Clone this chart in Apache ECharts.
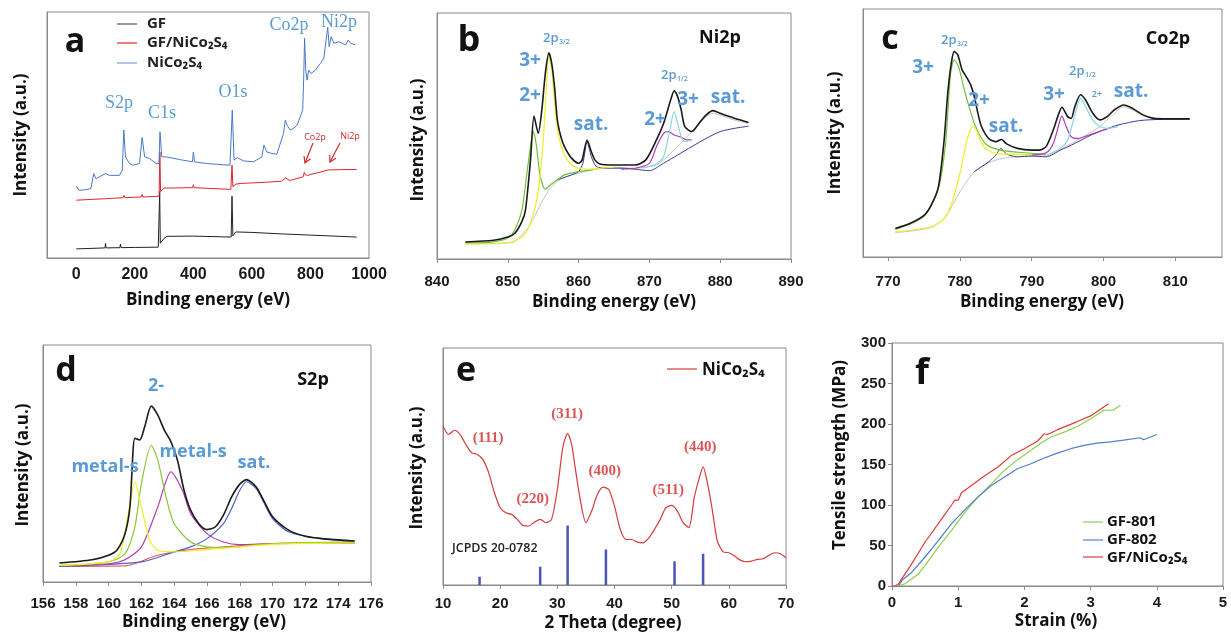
<!DOCTYPE html>
<html><head><meta charset="utf-8">
<script src="https://cdn.jsdelivr.net/npm/echarts@6/dist/echarts.min.js"></script>
<style>html,body{margin:0;padding:0;background:#fff}#c{width:1231px;height:636px}</style>
</head><body><div id="c"></div>
<script>
// ---------- Panel a: XPS survey (eV, a.u.) ----------
const aTicks = [0, 200, 400, 600, 800, 1000];
const aGF = [[0,3.7],[50,3.9],[98,4.1],[100,5.9],[102,4.1],[149,4.2],[151,5.7],[153,4.2],[200,4.3],[280,4.4],[283,4.5],[285,27],[287,6],[292,5.9],[300,8],[310,8.8],[398,8.9],[400,9.5],[402,8.9],[500,8.6],[529,8.5],[532,25.1],[535,9],[545,10.6],[600,10.4],[700,9.8],[800,9.3],[900,8.8],[958,8.5]];
const aGFNCS = [[0,23.5],[50,23.8],[100,24.1],[160,24.5],[163,25.5],[166,24.5],[222,24.8],[225,25.8],[228,24.8],[270,25],[283,25.2],[285.5,43.1],[288,27],[300,28.4],[350,28.5],[398,28.6],[400,29.8],[402,28.6],[450,28.3],[528,27.9],[532,37.7],[535,29],[545,30],[560,30.3],[650,30.8],[700,31.2],[715,32.5],[730,31.5],[775,33],[779,34.8],[783,33.8],[790,33.5],[800,34],[830,34.8],[860,35.8],[900,35.9],[958,36]];
const aNCS = [[0,29.2],[10,27.5],[33,27.8],[50,28.2],[59.5,34.3],[67.5,32.3],[79,33],[99.5,34.3],[113,33.6],[147.6,33.6],[157,35.7],[162.5,52],[168,41.1],[182,38.4],[193,37.7],[216,38.4],[225,49],[233.5,41.1],[250.6,40.4],[273,38.4],[282.6,38.4],[286,51.3],[292,41.1],[308,41.1],[353.5,40],[397,39.1],[400,43.1],[404,39.1],[445,38.4],[525,37.7],[533,60.1],[539,39.8],[550,40.8],[571,39.5],[605,39.1],[634,41.1],[641,45.9],[651,43.1],[668,42.5],[685,42.2],[708,50.6],[714,56],[720,54],[731,52],[742.7,52.7],[754,54],[765.5,57.4],[773.6,60.4],[777,73.7],[780,89.3],[784,76.4],[788.5,72.3],[794,76.4],[802,75],[817,76.4],[834,79.1],[845.6,81.2],[851,80.5],[859,93.8],[864,85.9],[871,90],[880,87.3],[897,87.9],[908.7,87.3],[920,86.6],[929,88.6],[937,87.3],[954,86.6]];

// ---------- Panel b: Ni2p ----------
const bEnvelope = [[844,6.9],[848,7.6],[850,8.9],[851,10.5],[852,15.3],[852.5,20],[853.2,40],[853.7,58.1],[854.3,51.1],[854.8,60.5],[855.3,75.4],[855.8,83.8],[856.2,79.5],[856.6,70],[857,56.5],[857.5,49.7],[858,45.7],[859,41],[860,38.9],[860.5,40.3],[861.2,48.4],[861.8,43.6],[862.3,40.3],[863,38.6],[865,38.2],[868,38.2],[869.5,40.3],[871,48.4],[872,55.1],[873,64.6],[873.5,68.4],[874,65.9],[874.5,60.5],[875,53.8],[876,51.8],[877,55.1],[878,58.5],[879,60.3],[880,59.2],[882,57.2],[884,55.5]];
const bBackground = [[844,6.2],[850,6.5],[851,7.2],[852,9.9],[853,13.2],[854,18.6],[855,24.1],[856,28.8],[857,31.5],[858,33.2],[860,34.9],[862,36.2],[865,37.3],[868,36.9],[870,37.6],[871,38.2],[872,40.3],[874,45.7],[876,51.8],[878,57.8],[879,59.2],[880,58.5],[882,56.5],[884,55.1]];
const bSat = [[857,32.2],[859,34.2],[860,35.5],[860.6,38.9],[861.2,47.7],[861.8,41.6],[862.5,37.6],[864,36.9],[866,36.9],[868,36.5],[870,35.9],[872,38.9],[874,42.3],[876,45.7],[878,49],[880,51.8],[882,53.1],[884,54]];
const bNi2 = [[844,6.5],[848,7],[850,8.5],[851,11.9],[852,20],[852.7,34.9],[853.2,45.7],[853.6,51.8],[854,47],[854.5,34.9],[855,29.5],[855.3,28.4],[856,30.1],[857,32.2],[858,34.2],[860,35.5],[862,36.2]];
const bNi3 = [[844,6.1],[850,6.6],[852,8.9],[853,13.2],[854,22.7],[854.8,40.3],[855.3,61.9],[855.8,82.2],[856.2,77],[856.7,60.5],[857.2,49.7],[858,42.3],[859,38.2],[860,36.9],[861,36.5],[863,36.9],[865,37.3]];
const bNi2b = [[866,36.5],[868,36.9],[870,38.9],[871,45.7],[872,51.1],[872.7,51.8],[873.5,50.4],[874.5,49.5],[875.3,48.4],[876,48.4]];
const bNi3b = [[869,36.9],[871,38.6],[872,41.6],[872.8,51.1],[873.5,59.9],[874,55.1],[874.5,49.7],[875,47.7],[876,48.4]];

// ---------- Panel c: Co2p ----------
const cTicks = [770, 780, 790, 800, 810];
const cEnvelope = [[771,11.5],[773,13.5],[775,16.8],[776,20.9],[777,28.3],[777.8,47.2],[778.3,66],[778.8,78.2],[779.2,82.9],[779.7,81.5],[780.3,75.5],[781,72.1],[781.5,69.4],[782,64.7],[782.5,58],[783,52.6],[784,47.8],[785,46.5],[785.8,47.4],[786.5,45.6],[788,43.8],[790,43.1],[791,43.1],[792,44.5],[793,51.2],[793.7,57.3],[794.2,60.4],[795,56.6],[795.5,55.9],[796,60.6],[796.8,65.4],[797.5,63.3],[798.5,58],[799.5,55.3],[800.5,56.6],[801.5,59.3],[802.8,61.3],[804,60],[805.5,57.3],[807,55.9],[809,55.7],[812,55.7]];
const cBackground = [[771,9.8],[776,11.9],[778,16.4],[780,26.3],[782,34.4],[784,38],[786,39.8],[790,40.8],[792,40.7],[794,43.4],[796,46.5],[798,49.9],[799.5,52.6],[801,56.6],[802.8,60.6],[804,59.3],[805.5,56.9],[807,55.9],[810,55.5],[812,55.5]];
const cSat = [[782,34.4],[784,38.4],[785,41.1],[785.7,43.8],[786.5,41.5],[788,40.4],[790,40.7],[792,40.4],[794,43.1],[796,45.8],[798,48.8],[800,51.2],[802,53.2],[805,55],[808,55.5],[812,55.7]];
const cCo3 = [[771,11.1],[775,16.4],[777,27.6],[778,45.8],[778.7,74.1],[779.2,79.5],[779.8,76.8],[780.5,68.7],[781,63.3],[782,53.9],[783,47.8],[784,44.7],[786,42.9],[788,42.3],[790,41.8],[792,41.4]];
const cCo2 = [[771,10.1],[776,12.1],[777,13.7],[778,16.2],[779,22.9],[780,33.7],[781,47.2],[781.8,52.8],[782.5,49.9],[783,45.8],[784,42.9],[785,41.8],[787,41.5],[790,41.4]];
const cCo3b = [[790,41.1],[792,42],[793,45.8],[793.7,52.6],[794.2,56.9],[794.8,52.6],[795.5,48.5],[796.5,47.8],[798,49.2],[800,51.2],[801,51.9]];
const cCo2b = [[792,41],[794,43.8],[795,47.2],[796,57.3],[796.8,64],[797.5,60.6],[798.5,55.3],[799.5,52.6],[800.5,51.9],[802,52.6]];

// ---------- Panel d: S2p ----------
const dEnvelope = [[157,8],[159,9.4],[160,11.3],[160.5,13.4],[161,20.4],[161.3,31.7],[161.6,60.6],[161.9,59.9],[162.2,65.5],[162.6,74.2],[163,70.4],[163.4,64.1],[163.8,59.2],[164.2,51.4],[164.6,38.7],[165,30.3],[165.5,24.6],[166,22.1],[166.5,23.2],[167,28.2],[167.5,35.9],[168,41.3],[168.4,43.2],[169,40.1],[169.5,33.8],[170,27.5],[171,21.8],[172,19.3],[173,18.3],[175,17.3]];
const dMetalS1 = [[157,7],[160,8.5],[160.7,12],[161.2,28.9],[161.6,42.3],[162,31.7],[162.5,17.6],[163,13.4],[164,12.7],[166,13.7],[170,15.9],[175,16.5]];
const dS2minus = [[157,7],[160,8.5],[161,12],[161.6,23.2],[162,41.5],[162.6,57.7],[163,51.4],[163.5,35.9],[164,24.6],[165,16.9],[166,14.8],[167,14.5],[170,16.2],[175,16.9]];
const dMetalS2 = [[157,6.8],[160,7.7],[161,9.4],[162,14.8],[163,31.7],[163.8,46.5],[164.5,38.7],[165,28.9],[166,20.4],[167,16.9],[168,15.8],[170,16.2],[175,16.5]];
const dSat = [[157,6.6],[162,8.5],[164,12.7],[165,14.8],[166,18.3],[167,24.6],[167.5,31],[168,38.7],[168.4,42.3],[169,39.4],[169.5,33.1],[170,26.8],[171,21.1],[173,18.3],[175,17.3]];
const dBase = [[157,6.6],[161,6.8],[163,11.3],[165,13.7],[167,14.8],[170,16.2],[175,16.5]];

// ---------- Panel e: XRD ----------
const eXRD = [[10,67],[11,63.5],[12,65.3],[13,63.5],[14,59.3],[15,55.8],[16,55.1],[17,52.9],[18,47.3],[19,38.9],[20,32.6],[21,30.5],[22,29.8],[23,27.7],[24,25.1],[25,24.9],[26,26.5],[27,27.7],[28,26.3],[29,27.7],[30,40.3],[31,58.6],[31.8,63.9],[32.5,59.3],[33,51.5],[34,36.1],[35,26.3],[36,31.2],[37,38.2],[38,41.3],[39,40.3],[40,33.3],[41,23.5],[42,19.2],[43,19.2],[44,18.1],[45,17.8],[46,19.9],[47,23.5],[48,27.7],[49,32.6],[50,33.6],[51,31.2],[52,26.3],[53,24.2],[54,37.5],[55,46.6],[55.5,49.9],[56,45.9],[57,33.3],[58,18.5],[59,14],[60,13.6],[61,12.2],[62,10.5],[63,9.8],[64,10.1],[65,10.8],[66,11.1],[67,12.5],[68,13.6],[69,13.2],[70,11.5]];
const eJCPDS = [[16.4,3.5],[27,7.7],[31.8,25.1],[38.5,15],[50.5,10],[55.5,13.2]];
const eHKL = [['(111)',17.9,62],['(220)',25.7,36.3],['(311)',31.7,72.2],['(400)',38.3,48.1],['(511)',49.4,40.1],['(440)',55,58.2]];

// ---------- Panel f: tensile ----------
const fGF801 = [[0.1,0],[0.2,3],[0.3,9],[0.4,15],[0.5,25.5],[0.7,48],[0.9,68.7],[1.1,91],[1.3,110],[1.5,126],[1.7,143],[1.9,156],[2.1,167.5],[2.25,176.5],[2.4,184],[2.6,190],[2.8,197],[3.0,206.6],[3.2,217],[3.35,217.5],[3.45,223]];
const fGF802 = [[0.1,0],[0.15,7],[0.3,17],[0.5,35.8],[0.7,56],[0.9,77],[1.1,94],[1.3,110],[1.5,124],[1.7,134.5],[1.9,145],[2.1,151],[2.3,158],[2.5,164],[2.7,169.5],[2.9,173.7],[3.1,176.5],[3.3,178],[3.5,180],[3.75,183],[3.8,180.6],[4.0,187]];
const fGFNCS = [[0,0],[0.05,0],[0.1,2.9],[0.2,15.2],[0.3,27.6],[0.5,54.3],[0.7,77],[0.9,100],[0.95,106],[1.0,106],[1.05,115],[1.2,124],[1.4,136],[1.6,147],[1.8,161],[2.0,169.5],[2.2,179],[2.3,188],[2.35,187],[2.5,193],[2.8,203],[3.0,210],[3.27,225]];

// ---------- styling ----------
const ANN = '#5b9bd5';
const GRID_C = '#8a8a8a';
const grids = [
  {left:47, top:12, width:322, height:246},
  {left:437, top:13, width:354, height:246},
  {left:863, top:9, width:359, height:248},
  {left:43, top:345, width:328, height:237},
  {left:443, top:348, width:343, height:237},
  {left:892, top:343, width:331, height:243}
].map(g => Object.assign({show:true, borderColor:GRID_C, borderWidth:1, backgroundColor:'transparent'}, g));

const lblBase = {color:'#1a1a1a', fontWeight:'bold', fontFamily:'Liberation Sans', fontSize:15, formatter: v => String(v)};
function xAx(i, o) {
  return Object.assign({
    type:'value', gridIndex:i, splitLine:{show:false},
    axisLine:{show:true, onZero:false, lineStyle:{color:GRID_C}},
    axisTick:{show:true, inside:false, length:4, lineStyle:{color:GRID_C}},
    axisLabel:Object.assign({}, lblBase, {margin:o.margin||10, fontSize:o.fs||15, customValues:o.cv, showMinLabel:true, showMaxLabel:true})
  }, o.ax);
}
const xAxes = [
  xAx(0, {cv:aTicks, margin:9, fs:16, ax:{min:-100, max:1000, axisTick:{show:false}}}),
  xAx(1, {margin:15, ax:{min:840, max:890, interval:10}}),
  xAx(2, {cv:cTicks, margin:17, ax:{min:766.5, max:816.5}}),
  xAx(3, {margin:14, ax:{min:156, max:176, interval:2}}),
  xAx(4, {margin:11, ax:{min:10, max:70, interval:10}}),
  xAx(5, {margin:9, ax:{min:0, max:5, interval:1}})
];
xAxes[2].axisTick = {show:true, length:4, customValues:cTicks, lineStyle:{color:GRID_C}};
const yAxes = [0,1,2,3,4].map(i => ({type:'value', gridIndex:i, min:0, max:100, splitLine:{show:false},
  axisLine:{show:true, onZero:false, lineStyle:{color:GRID_C}}, axisTick:{show:false}, axisLabel:{show:false}}));
yAxes.push({type:'value', gridIndex:5, min:0, max:300, interval:50, splitLine:{show:false},
  axisLine:{show:true, onZero:false, lineStyle:{color:GRID_C}}, axisTick:{show:true, length:4, lineStyle:{color:GRID_C}},
  axisLabel:Object.assign({}, lblBase, {margin:6})});

function ln(i, name, data, color, w, z, sm) {
  return {type:'line', name, xAxisIndex:i, yAxisIndex:i, data, symbol:'none', showSymbol:false, smooth:sm === undefined ? 0.25 : sm,
    lineStyle:{color, width:w||1}, itemStyle:{color}, silent:true, animation:false, z:z||2};
}
const series = [
  ln(0,'GF',aGF,'#222222',1,2,false), ln(0,'GF/NiCo₂S₄',aGFNCS,'#e0262c',1,3,false), ln(0,'NiCo₂S₄',aNCS,'#4a78c8',1,4,false),
  ln(1,'b-bg',bBackground,'#c4c4c4',1), ln(1,'b-sat',bSat,'#3c3c96',1), ln(1,'b-2+',bNi2,'#74bf3e',1.2),
  ln(1,'b-3+',bNi3,'#eeee22',1.2), ln(1,'b-2+b',bNi2b,'#b03ab3',1.2), ln(1,'b-3+b',bNi3b,'#86d6e6',1.2),
  ln(1,'b-env',bEnvelope,'#1a1a1a',1.6,5),
  ln(2,'c-bg',cBackground,'#c4c4c4',1), ln(2,'c-sat',cSat,'#3c3c96',1), ln(2,'c-3+',cCo3,'#74bf3e',1.2),
  ln(2,'c-2+',cCo2,'#eeee22',1.2), ln(2,'c-3+b',cCo3b,'#b03ab3',1.2), ln(2,'c-2+b',cCo2b,'#86d6e6',1.2),
  ln(2,'c-env',cEnvelope,'#1a1a1a',1.6,5),
  ln(3,'d-base',dBase,'#e04040',1), ln(3,'d-sat',dSat,'#4a62c4',1.2), ln(3,'d-ms2',dMetalS2,'#b03cb0',1.2),
  ln(3,'d-2-',dS2minus,'#8cc43c',1.2), ln(3,'d-ms1',dMetalS1,'#f0f020',1.2), ln(3,'d-env',dEnvelope,'#1a1a1a',1.6,5),
  ln(4,'e-xrd',eXRD,'#d63a3a',1.2),
  {type:'bar', name:'JCPDS', xAxisIndex:4, yAxisIndex:4, data:eJCPDS, barWidth:2.5, itemStyle:{color:'#4a55b5'}, silent:true, animation:false},
  ln(5,'GF-802',fGF802,'#4f81c8',1.2,3,false), ln(5,'GF-801',fGF801,'#8fcf4f',1.2,2,false), ln(5,'GF/NiCo₂S₄ (f)',fGFNCS,'#e03a3a',1.2,4,false),
  {type:'scatter', xAxisIndex:4, yAxisIndex:4, data:eHKL.map(h=>[h[1],h[2],h[0]]), symbolSize:0, silent:true, animation:false, z:10,
    label:{show:true, formatter:p=>p.data[2], position:'inside', color:'#d22a2a', fontFamily:'Liberation Serif', fontWeight:'bold', fontSize:15}}
];

const G = [];
function T(x, y, text, size, o) {
  o = o || {};
  G.push({type:'text', x, y, rotation:o.rot||0, z:100, silent:true, style:{text, fontSize:size, fontWeight:o.w||'bold',
    fontFamily:o.f||'Open Sans', fill:o.c||'#111', align:o.a||'center', verticalAlign:'middle'}});
}
function L(x1,y1,x2,y2,color,w) { G.push({type:'line', silent:true, z:100, shape:{x1,y1,x2,y2}, style:{stroke:color, lineWidth:w||1.2}}); }
function arrow(x1,y1,x2,y2,color) {
  L(x1,y1,x2,y2,color,1.2);
  const dx=x2-x1, dy=y2-y1, len=Math.hypot(dx,dy), ux=-dx/len, uy=-dy/len, a=Math.PI/6, h=7;
  const p1=[x2+h*(ux*Math.cos(a)-uy*Math.sin(a)), y2+h*(ux*Math.sin(a)+uy*Math.cos(a))];
  const p2=[x2+h*(ux*Math.cos(-a)-uy*Math.sin(-a)), y2+h*(ux*Math.sin(-a)+uy*Math.cos(-a))];
  G.push({type:'polyline', silent:true, z:100, shape:{points:[p1,[x2,y2],p2]}, style:{stroke:color, lineWidth:1.2, fill:null}});
}
const R = Math.PI/2;
// panel letters
T(75,42,'a',34); T(469,41,'b',36); T(890,39,'c',34); T(66,371,'d',34); T(466,371,'e',34); T(922,374,'f',36);
// axis names
T(208,300,'Binding energy (eV)',17); T(614,302,'Binding energy (eV)',17); T(1042,302,'Binding energy (eV)',17);
T(204,622,'Binding energy (eV)',17); T(613,623,'2 Theta (degree)',17); T(1056,621,'Strain (%)',17);
T(21,135,'Intensity (a.u.)',17,{rot:R}); T(418,140,'Intensity (a.u.)',17,{rot:R}); T(835,133,'Intensity (a.u.)',17,{rot:R});
T(23,465,'Intensity (a.u.)',17,{rot:R}); T(417,468,'Intensity (a.u.)',17,{rot:R}); T(840,455,'Tensile strength (MPa)',17,{rot:R});
// panel a legend & annotations
L(117,24,137,24,'#555555',1.2); L(117,43,137,43,'#e0262c',1.2); L(117,63,137,63,'#7a9ad8',1.2);
T(147,24,'GF',15,{a:'left',c:'#222'}); T(147,43,'GF/NiCo₂S₄',15,{a:'left',c:'#222'}); T(147,63,'NiCo₂S₄',15,{a:'left',c:'#222'});
const SER = {f:'Liberation Serif', w:'normal', c:ANN};
T(119,103,'S2p',18,SER); T(162,113,'C1s',18,SER); T(233,92,'O1s',18,SER); T(289,25,'Co2p',18,SER); T(339,22,'Ni2p',18,SER);
T(315,137,'Co2p',9,{c:'#d42a2a',w:'normal'}); T(350,136,'Ni2p',9,{c:'#d42a2a',w:'normal'});
arrow(313,143,305,163,'#d42a2a'); arrow(340,143,330,162,'#d42a2a');
// panel b
const SUB = {c:ANN, w:'600', a:'left'};
T(720,38,'Ni2p',18); T(543,38,'2p',13,SUB); T(559,42,'3/2',7,SUB);
T(530,61,'3+',19,{c:ANN}); T(530,96,'2+',19,{c:ANN}); T(591,125,'sat.',19,{c:ANN});
T(661,75,'2p',13,SUB); T(677,79,'1/2',7,SUB);
T(688,100,'3+',19,{c:ANN}); T(655,120,'2+',19,{c:ANN}); T(728,98,'sat.',19,{c:ANN});
// panel c
T(1168,39,'Co2p',18); T(941,40,'2p',13,SUB); T(957,44,'3/2',7,SUB);
T(923,68,'3+',19,{c:ANN}); T(979,101,'2+',19,{c:ANN}); T(1006,127,'sat.',19,{c:ANN});
T(1054,95,'3+',19,{c:ANN}); T(1069,71,'2p',13,SUB); T(1085,75,'1/2',7,SUB);
T(1097,94,'2+',9,{c:ANN,w:'600'}); T(1131,92,'sat.',19,{c:ANN});
// panel d
T(313,380,'S2p',18); T(156,386,'2-',18,{c:ANN}); T(105,467,'metal-s',18,{c:ANN}); T(193,452,'metal-s',18,{c:ANN}); T(254,463,'sat.',18,{c:ANN});
// panel e
L(667,369,697,369,'#d63a3a',1.2); T(702,370,'NiCo₂S₄',17,{a:'left'}); T(452,548,'JCPDS 20-0782',12.5,{a:'left',w:'600',c:'#222'});
// panel f legend
L(1083,522,1103,522,'#8fcf4f',1.2); L(1083,540,1103,540,'#4f81c8',1.2); L(1083,557,1103,557,'#e03a3a',1.2);
T(1107,522,'GF-801',15,{a:'left'}); T(1107,540,'GF-802',15,{a:'left'}); T(1107,558,'GF/NiCo₂S₄',15,{a:'left'});

const chart = echarts.init(document.getElementById('c'), null, {renderer:'canvas'});
chart.setOption({animation:false, backgroundColor:'#fff', grid:grids, xAxis:xAxes, yAxis:yAxes, series, graphic:{elements:G}});
</script></body></html>
